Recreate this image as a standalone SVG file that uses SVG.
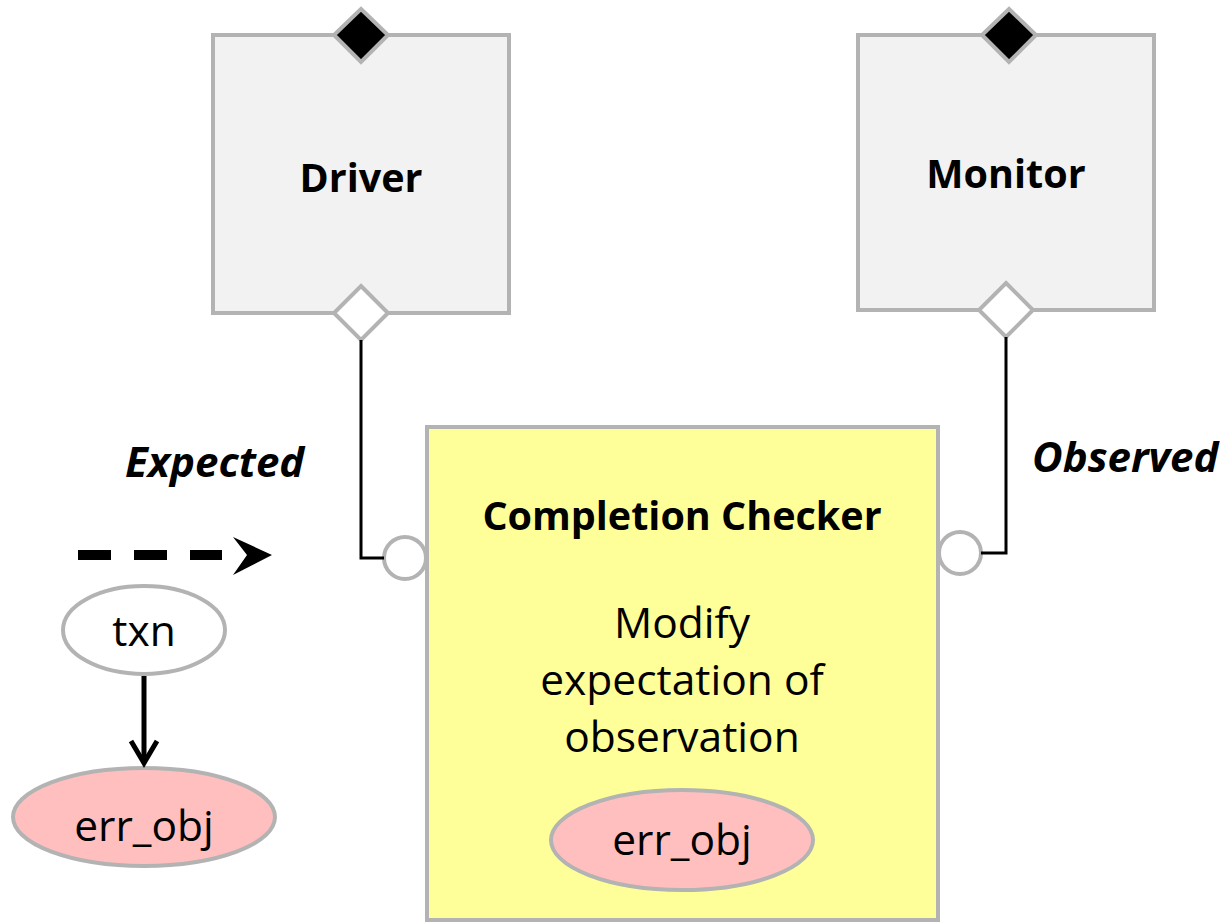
<svg xmlns="http://www.w3.org/2000/svg" width="1226" height="922" viewBox="0 0 1226 922">
  <defs>
    <style>
      .box { fill: #f2f2f2; stroke: #b3b3b3; stroke-width: 4; }
      .checker { fill: #ffff99; stroke: #b3b3b3; stroke-width: 4; }
      .port-in { fill: #000000; stroke: #b3b3b3; stroke-width: 4; }
      .port-out { fill: #ffffff; stroke: #b3b3b3; stroke-width: 4; }
      .sock { fill: #ffffff; stroke: #b3b3b3; stroke-width: 4; }
      .obj { fill: #ffffff; stroke: #b3b3b3; stroke-width: 4; }
      .err { fill: #ffbfbf; stroke: #b3b3b3; stroke-width: 4; }
      .wire { fill: none; stroke: #000000; stroke-width: 3; }
      .title { font-family: "Open Sans", "Noto Sans", sans-serif; font-weight: bold; font-size: 39.5px; fill: #000000; text-anchor: middle; }
      .body { font-family: "Open Sans", "Noto Sans", sans-serif; font-size: 42.5px; fill: #000000; text-anchor: middle; }
      .label { font-family: "Open Sans", "Noto Sans", sans-serif; font-weight: bold; font-style: italic; font-size: 42px; fill: #000000; }
    </style>
  </defs>

  <!-- Driver -->
  <g id="driver">
    <rect class="box" x="213" y="35" width="296" height="278"/>
    <polygon class="port-in" points="361,9 388,35 361,62 334,35"/>
    <polygon class="port-out" points="361,286 388,313 361,340 334,313"/>
    <text class="title" x="361" y="192">Driver</text>
  </g>

  <!-- Monitor -->
  <g id="monitor">
    <rect class="box" x="858" y="35" width="296" height="275"/>
    <polygon class="port-in" points="1009,9 1036,35 1009,62 982,35"/>
    <polygon class="port-out" points="1006,283 1033,310 1006,337 979,310"/>
    <text class="title" x="1006" y="188">Monitor</text>
  </g>

  <!-- Completion Checker -->
  <g id="completion-checker">
    <rect class="checker" x="427" y="427" width="511" height="493"/>
    <circle class="sock" cx="405" cy="558" r="21"/>
    <circle class="sock" cx="960" cy="553" r="21"/>
    <text class="title" x="682" y="530">Completion Checker</text>
    <text class="body" x="682" y="638">Modify</text>
    <text class="body" x="682" y="695">expectation of</text>
    <text class="body" x="682" y="752">observation</text>
    <ellipse class="err" cx="682" cy="840" rx="131" ry="50"/>
    <text class="body" x="682" y="855">err_obj</text>
  </g>

  <!-- Legend: transaction with attached error object -->
  <g id="legend">
    <text class="label" x="125" y="477">Expected</text>
    <text class="label" x="1032" y="472">Observed</text>
    <line x1="78" y1="555" x2="222" y2="555" stroke="#000000" stroke-width="10" stroke-dasharray="33 23"/>
    <polygon points="272,555 233,537 247,555 233,575" fill="#000000"/>
  </g>

  <g id="txn">
    <ellipse class="obj" cx="144" cy="630" rx="81" ry="44"/>
    <text class="body" x="144" y="646">txn</text>
  </g>

  <g id="err-obj">
    <ellipse class="err" cx="144" cy="817" rx="131" ry="49"/>
    <text class="body" x="144" y="841">err_obj</text>
  </g>

  <!-- Connectors -->
  <g id="connectors">
    <polyline class="wire" points="361,340 361,558 384,558"/>
    <polyline class="wire" points="1006,337 1006,553 981,553"/>
    <line x1="144" y1="676" x2="144" y2="762" stroke="#000000" stroke-width="5"/>
    <polyline points="131,741 144,763 157,741" fill="none" stroke="#000000" stroke-width="5" stroke-linejoin="miter"/>
  </g>
</svg>
